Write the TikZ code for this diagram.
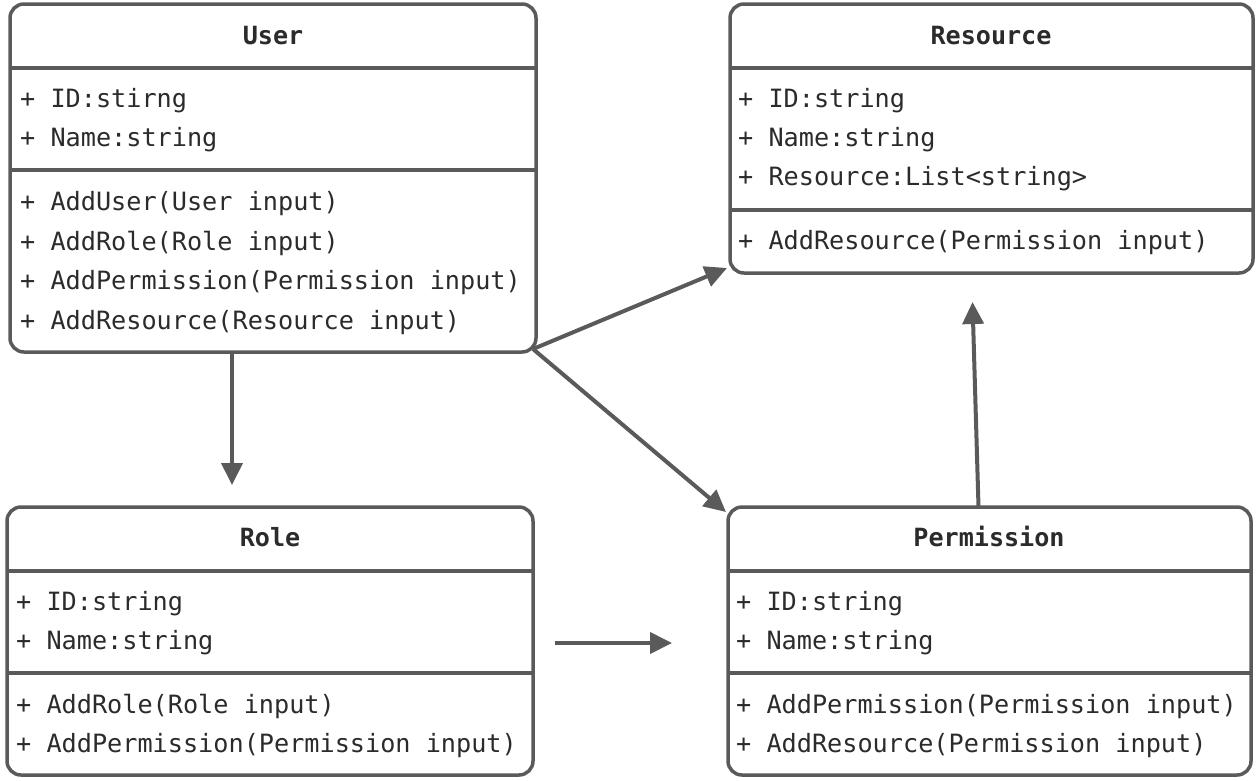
\documentclass[tikz,border=0pt]{standalone}
\usepackage{fontspec}
\setmonofont{DejaVu Sans Mono}
\usetikzlibrary{arrows.meta}
\definecolor{umlgray}{HTML}{5A5A5A}
\definecolor{umltext}{HTML}{2B2B2B}
\tikzset{
	classbox/.style={draw=umlgray, line width=3.5pt, rounded corners=14pt, inner sep=0pt, outer sep=0pt},
	classsep/.style={draw=umlgray, line width=3.5pt},
	classname/.style={anchor=base, inner sep=0pt, text=umltext, font=\ttfamily\bfseries\fontsize{25.1pt}{30pt}\selectfont},
	member/.style={anchor=base west, inner sep=0pt, text=umltext, font=\ttfamily\fontsize{25.2pt}{30pt}\selectfont},
	link/.style={draw=umlgray, line width=4pt, -{Triangle[length=22pt, width=21pt]}}
}

\begin{document}
\begin{tikzpicture}[x=1pt, y=-1pt]
			%%%%% START %%%%%
			\useasboundingbox (0,0) rectangle (1260,780);
			
			% User
			\node[classbox, minimum width=526pt, minimum height=348pt] (user) at (273,178) {};
			\draw[classsep] ([yshift=-64pt]user.north west) -- ([yshift=-64pt]user.north east);
			\draw[classsep] ([yshift=-166pt]user.north west) -- ([yshift=-166pt]user.north east);
			\node[classname] (user-name) at (273,44) {User};
			\node[member] (user-id) at (20,107) {+ ID:stirng};
			\node[member] (user-nm) at (20,146) {+ Name:string};
			\node[member] (user-m1) at (20,210) {+ AddUser(User input)};
			\node[member] (user-m2) at (20,250) {+ AddRole(Role input)};
			\node[member] (user-m3) at (20,289) {+ AddPermission(Permission input)};
			\node[member] (user-m4) at (20,329) {+ AddResource(Resource input)};
			
			% Resource
			\node[classbox, minimum width=523pt, minimum height=269pt] (resource) at (991.5,138.5) {};
			\draw[classsep] ([yshift=-64pt]resource.north west) -- ([yshift=-64pt]resource.north east);
			\draw[classsep] ([yshift=-206pt]resource.north west) -- ([yshift=-206pt]resource.north east);
			\node[classname] (resource-name) at (991,44) {Resource};
			\node[member] (resource-id) at (738,107) {+ ID:string};
			\node[member] (resource-nm) at (738,146) {+ Name:string};
			\node[member] (resource-ls) at (738,185) {+ Resource:List<string>};
			\node[member] (resource-m1) at (738,249) {+ AddResource(Permission input)};
			
			% Role
			\node[classbox, minimum width=526pt, minimum height=268pt] (role) at (270,641) {};
			\draw[classsep] ([yshift=-64pt]role.north west) -- ([yshift=-64pt]role.north east);
			\draw[classsep] ([yshift=-166pt]role.north west) -- ([yshift=-166pt]role.north east);
			\node[classname] (role-name) at (270,546) {Role};
			\node[member] (role-id) at (16,610) {+ ID:string};
			\node[member] (role-nm) at (16,649) {+ Name:string};
			\node[member] (role-m1) at (16,713) {+ AddRole(Role input)};
			\node[member] (role-m2) at (16,752) {+ AddPermission(Permission input)};
			
			% Permission
			\node[classbox, minimum width=523pt, minimum height=268pt] (permission) at (989.5,641) {};
			\draw[classsep] ([yshift=-64pt]permission.north west) -- ([yshift=-64pt]permission.north east);
			\draw[classsep] ([yshift=-166pt]permission.north west) -- ([yshift=-166pt]permission.north east);
			\node[classname] (permission-name) at (989,546) {Permission};
			\node[member] (permission-id) at (736,610) {+ ID:string};
			\node[member] (permission-nm) at (736,649) {+ Name:string};
			\node[member] (permission-m1) at (736,713) {+ AddPermission(Permission input)};
			\node[member] (permission-m2) at (736,752) {+ AddResource(Permission input)};
			
			% arrows
			\coordinate (role-in) at (232,485);
			\coordinate (rp-from) at (555,643);
			\coordinate (rp-to) at (672,643);
			\draw[link] ([xshift=-41pt]user.south) -- (role-in);
			\draw[link] ([xshift=-3pt, yshift=3pt]user.south east) -- ([xshift=-3pt, yshift=5pt]resource.south west);
			\draw[link] ([xshift=-3pt, yshift=3pt]user.south east) -- ([xshift=-2pt, yshift=-5pt]permission.north west);
			\draw[link] (rp-from) -- (rp-to);
			\draw[link] ([xshift=-11pt]permission.north) -- ([xshift=-19pt, yshift=-29pt]resource.south);
			
			%%%%% END %%%%%
\end{tikzpicture}
\end{document}
